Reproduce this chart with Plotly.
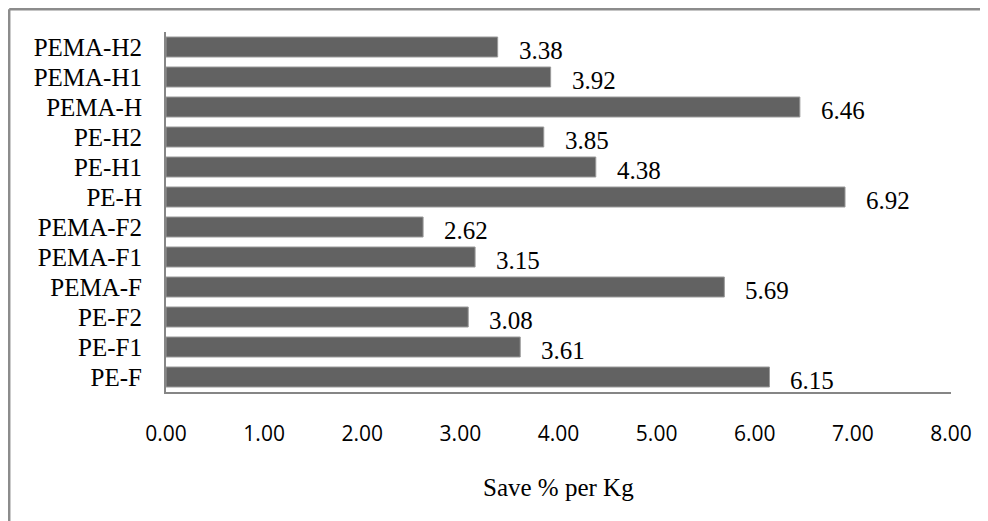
import plotly.graph_objects as go

categories = ["PE-F", "PE-F1", "PE-F2", "PEMA-F", "PEMA-F1", "PEMA-F2",
              "PE-H", "PE-H1", "PE-H2", "PEMA-H", "PEMA-H1", "PEMA-H2"]
values = [6.15, 3.61, 3.08, 5.69, 3.15, 2.62, 6.92, 4.38, 3.85, 6.46, 3.92, 3.38]
x_ticks = [0, 1, 2, 3, 4, 5, 6, 7, 8]
x_tick_labels = ["0.00", "1.00", "2.00", "3.00", "4.00", "5.00", "6.00", "7.00", "8.00"]
x_title = "Save % per Kg"

# page body adds an 8px offset; compensate in margins
OFF = 8
W, H = 988, 521
ml, mr, mt, mb = 166 - OFF, 37 + OFF, 32 - OFF, 129 + OFF
pw, ph = W - ml - mr, H - mt - mb
plot_bottom = H - mb

fig = go.Figure()
fig.add_trace(go.Bar(
    x=values, y=categories, orientation="h",
    marker=dict(color="#626262", line=dict(color="#9a9a9a", width=1)),
    hoverinfo="x+y",
))

serif = "Liberation Serif, Times New Roman, serif"
annotations = []
for c, v in zip(categories, values):
    annotations.append(dict(
        x=v, y=c, xref="x", yref="y", text=f"{v:.2f}", showarrow=False,
        xanchor="left", yanchor="middle", xshift=19, yshift=-3,
        font=dict(family=serif, size=25, color="#000000"),
    ))
title_px = 487 - OFF
annotations.append(dict(
    x=0.5, y=-(title_px - plot_bottom) / ph,
    xref="paper", yref="paper", text=x_title, showarrow=False,
    xanchor="center", yanchor="middle",
    font=dict(family=serif, size=25, color="#000000"),
))

left_px, top_px = 1.2, 1.2
lx = (left_px - ml) / pw
ty = (plot_bottom - top_px) / ph
shapes = [
    dict(type="line", xref="paper", yref="paper", x0=lx, x1=lx, y0=-1.0, y1=ty,
         line=dict(color="#8c8c8c", width=2.5)),
    dict(type="line", xref="paper", yref="paper", x0=lx, x1=1.3, y0=ty, y1=ty,
         line=dict(color="#8c8c8c", width=2.5)),
]

fig.update_layout(
    width=W, height=H,
    margin=dict(l=ml, r=mr, t=mt, b=mb, pad=0),
    paper_bgcolor="white", plot_bgcolor="white",
    bargap=1/3, showlegend=False,
    annotations=annotations, shapes=shapes,
)
fig.update_xaxes(
    range=[0, 8], tickvals=x_ticks, ticktext=x_tick_labels,
    showgrid=False, zeroline=False, showline=True, linecolor="#868686", linewidth=2,
    ticks="", ticklabelstandoff=22,
    tickfont=dict(family="Open Sans", size=21, color="#000000"),
)
fig.update_yaxes(
    range=[-0.5, 11.5], showgrid=False, zeroline=False,
    showline=True, linecolor="#868686", linewidth=2, ticks="",
    ticklabelstandoff=17,
    tickfont=dict(family=serif, size=25, color="#000000"),
)

fig.write_html("out.html")
